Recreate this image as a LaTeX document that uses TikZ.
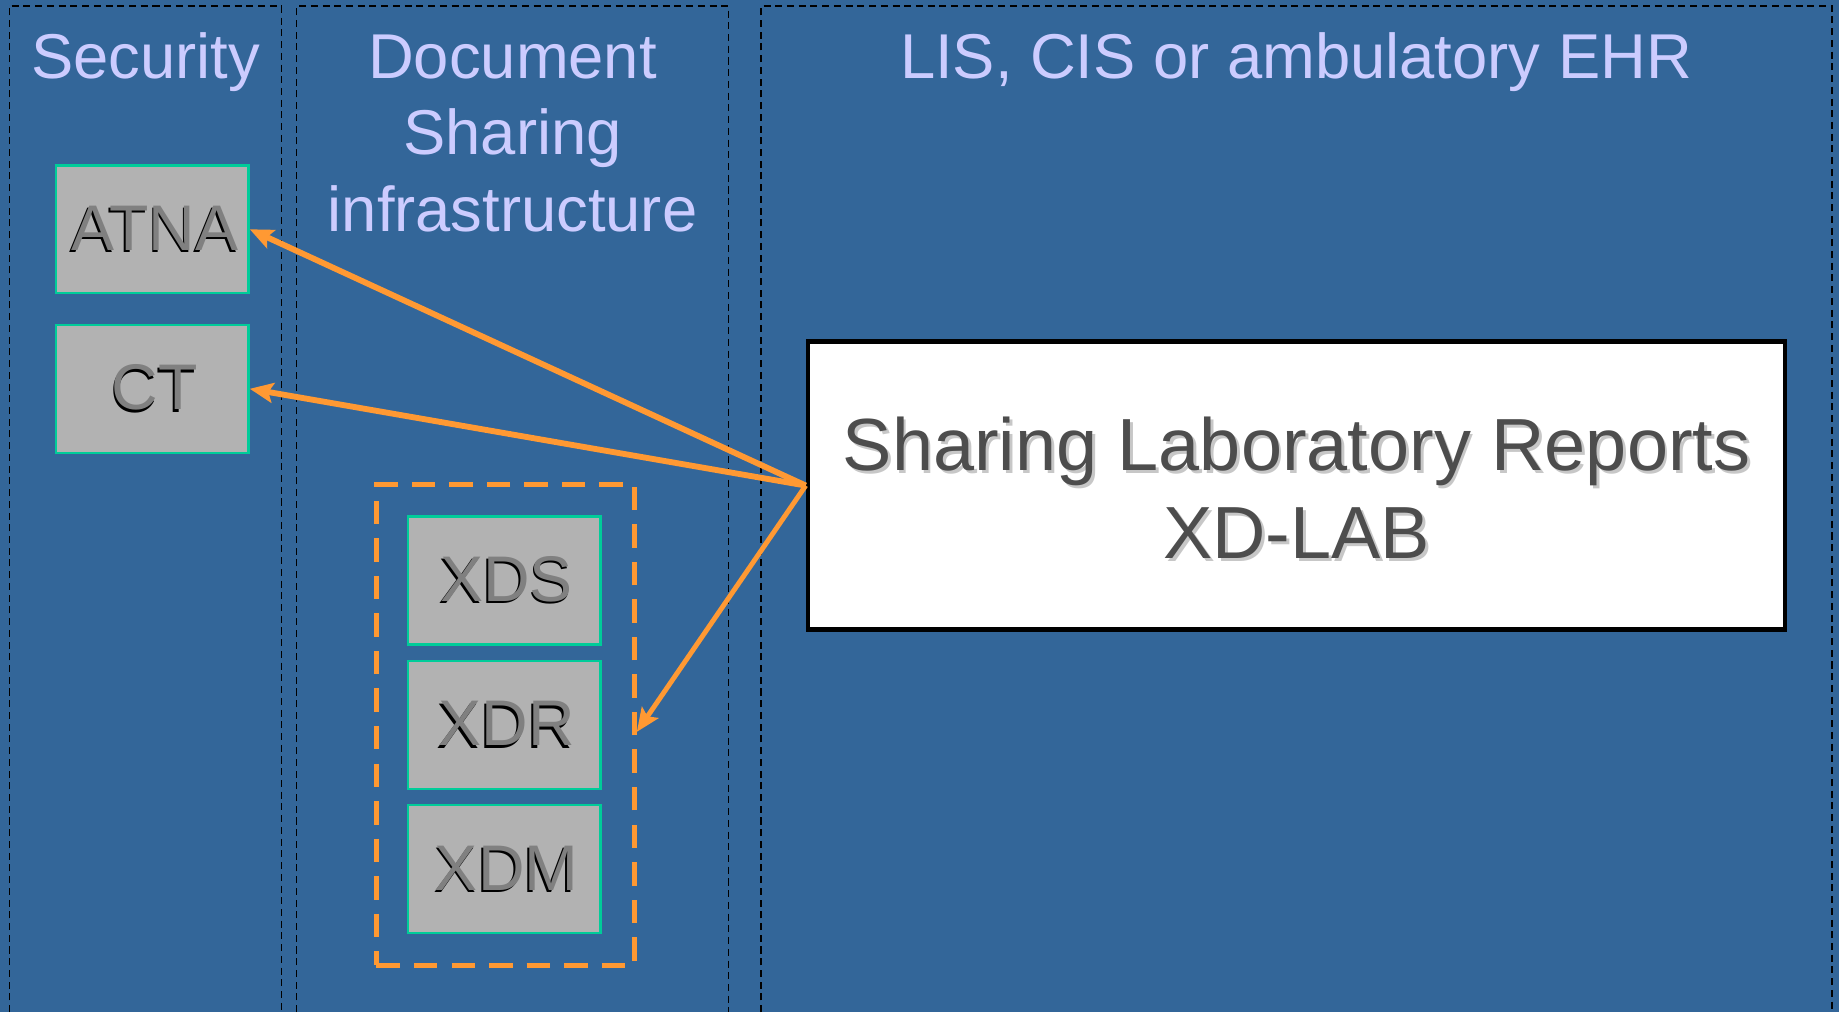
\documentclass[tikz,border=0pt]{standalone}
\usepackage{fontspec}
\setmainfont{Liberation Sans}
\usetikzlibrary{arrows.meta}
\definecolor{bgblue}{RGB}{51,102,153}
\definecolor{ttl}{RGB}{204,204,255}
\definecolor{boxgray}{RGB}{178,178,178}
\definecolor{tealb}{RGB}{0,204,153}
\definecolor{orng}{RGB}{255,153,51}
\definecolor{dkgray}{RGB}{77,77,77}
\definecolor{lblgray}{RGB}{128,128,128}
\newcommand\shlabel[1]{\kern4pt\rlap{\kern-1.5pt\raisebox{-1.8pt}{\color{black}#1}}{\color{lblgray}#1}}
\newcommand\mshadow[1]{\rlap{\kern2.5pt\raisebox{-2.5pt}{\color{black!22}#1}}{\color{dkgray}#1}}
\begin{document}
\begin{tikzpicture}[x=1pt,y=-1pt,
  panel/.style={draw=black,line width=1.2pt,dash pattern=on 6pt off 4pt},
  ttlnode/.style={text=ttl,font=\fontsize{54}{65}\selectfont,align=center,anchor=base,inner sep=0pt},
  gbox/.style={draw=tealb,line width=2pt,fill=boxgray,minimum width=164pt,minimum height=109pt,inner sep=0pt,font=\fontsize{55}{65}\selectfont},
  mainbox/.style={draw=black,line width=4pt,fill=white,minimum width=833pt,minimum height=246pt,align=center,font=\fontsize{63}{75}\selectfont},
  grpbox/.style={draw=orng,line width=4pt,dash pattern=on 20pt off 12pt,minimum width=220pt,minimum height=410pt,inner sep=0pt},
  arr/.style={draw=orng,line width=5pt,-{Stealth[length=20pt,width=17pt,inset=4pt]}}
]
\fill[bgblue] (0,0) rectangle (1568,863);
\useasboundingbox (0,0) rectangle (1568,863);
% panels
\draw[panel] (8,863) -- (8,5) -- (240,5) -- (240,863);
\draw[panel] (253,863) -- (253,5) -- (621,5) -- (621,863);
\draw[panel] (649,863) -- (649,5) -- (1562,5) -- (1562,863);
% titles
\node[ttlnode] (tsec) at (124,67) {Security};
\node[ttlnode] (tdoc) at (437,197) {Document\\Sharing\\infrastructure};
\node[ttlnode] (tlis) at (1105,67) {LIS, CIS or ambulatory EHR};
% boxes
\node[gbox] (atna) at (130,195.5) {\shlabel{ATNA}};
\node[gbox] (ct) at (130,331.5) {\shlabel{CT}};
\node[grpbox] (grp) at (431,618) {};
\node[gbox] (xds) at (430,495) {\shlabel{XDS}};
\node[gbox] (xdr) at (430,618) {\shlabel{XDR}};
\node[gbox] (xdm) at (430,741) {\shlabel{XDM}};
\node[mainbox] (main) at (1105.5,414) {};
\node[align=center,font=\fontsize{63}{75}\selectfont] (maintext) at ([yshift=-3pt]main.center) {\mshadow{Sharing Laboratory Reports}\\\mshadow{XD-LAB}};
% arrows
\coordinate (xdrin) at ([yshift=-6pt]grp.east |- xdr.east);
\draw[arr] (main.west) -- (atna.east);
\draw[arr] (main.west) -- (ct.east);
\draw[arr,line width=4.2pt] (main.west) -- (xdrin);
\end{tikzpicture}
\end{document}
